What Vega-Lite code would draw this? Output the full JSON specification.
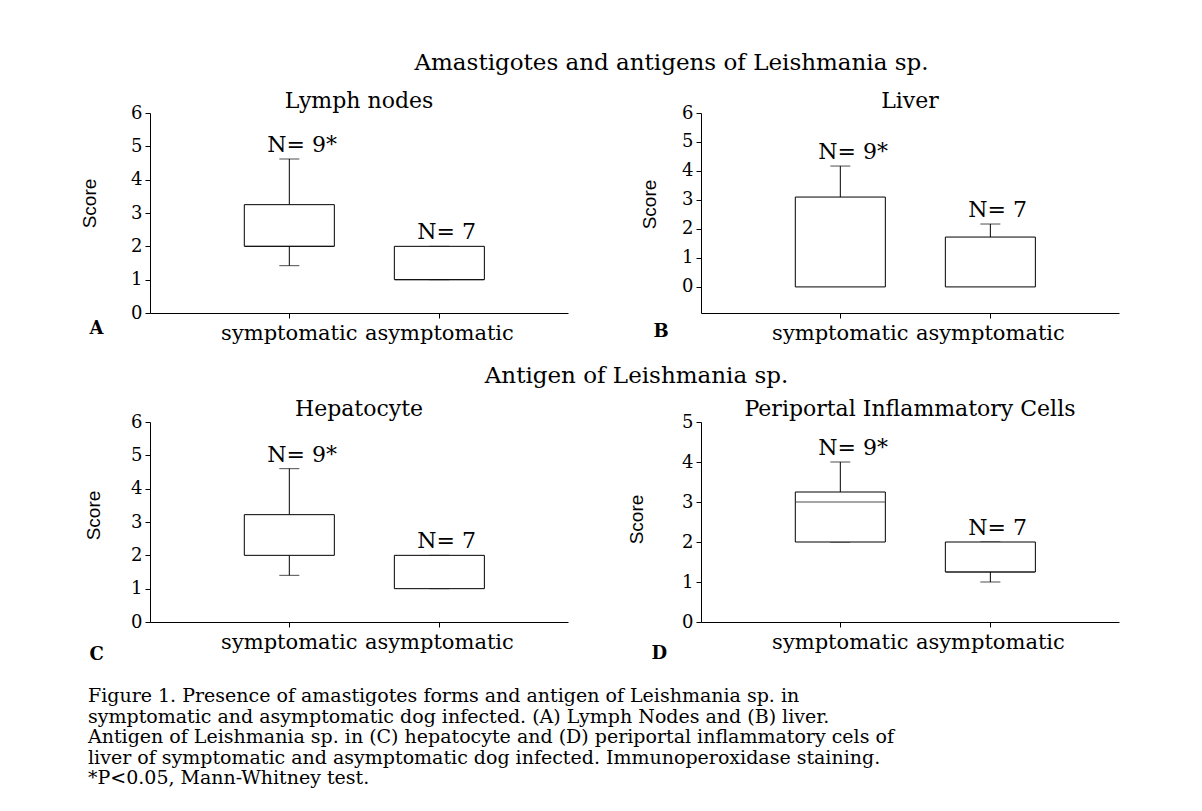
{
  "$schema": "https://vega.github.io/schema/vega-lite/v6.json",
  "background": "white",
  "padding": {"left": 80, "top": 52, "right": 5, "bottom": 5},
  "config": {
    "font": "DejaVu Serif",
    "view": {"stroke": null},
    "axis": {"domainColor": "black", "tickColor": "black", "labelColor": "black", "titleColor": "black", "grid": false, "domainWidth": 1, "tickWidth": 1, "tickSize": 5, "labelFont": "DejaVu Serif"},
    "axisX": {"labelAngle": 0, "labelFontSize": 21, "labelPadding": 4, "titleFont": "DejaVu Serif", "titleFontWeight": "bold", "titleFontSize": 18, "titleAnchor": "start", "titleAlign": "left", "titleBaseline": "alphabetic"},
    "axisY": {"labelFontSize": 18, "labelPadding": 3, "labelOverlap": false, "titleFont": "Liberation Sans", "titleFontWeight": "normal", "titleFontSize": 19, "titleBaseline": "middle", "titleAlign": "center", "titleAngle": -90},
    "title": {"font": "DejaVu Serif", "fontWeight": "normal", "fontSize": 22, "color": "black"}
  },
  "title": {
    "text": [
      "Figure 1. Presence of amastigotes forms and antigen of Leishmania sp. in",
      "symptomatic and asymptomatic dog infected. (A) Lymph Nodes and (B) liver.",
      "Antigen of Leishmania sp. in (C) hepatocyte and (D) periportal inflammatory cels of",
      "liver of symptomatic and asymptomatic dog infected.  Immunoperoxidase staining.",
      "*P<0.05, Mann-Whitney test."
    ],
    "orient": "bottom",
    "anchor": "start",
    "frame": "bounds",
    "dx": 8,
    "offset": 24,
    "fontSize": 19,
    "lineHeight": 20.5,
    "baseline": "top"
  },
  "spacing": 22,
  "align": "none",
  "vconcat": [
    {
      "title": {"text": "Amastigotes and antigens of Leishmania sp.", "anchor": "middle", "dx": 72, "offset": 15, "fontSize": 23},
      "spacing": 72,
      "hconcat": [
        {
          "title": {"text": "Lymph nodes", "offset": -9},
          "width": 418, "height": 200,
          "data": {"values": [
            {"group": "symptomatic", "lower": 1.42, "q1": 2, "median": 2, "q3": 3.25, "upper": 4.62, "n_label": "N= 9*"},
            {"group": "asymptomatic", "lower": 1, "q1": 1, "median": 1, "q3": 2, "upper": 2, "n_label": "N= 7"}
          ]},
          "encoding": {
            "x": {"field": "group", "type": "nominal", "sort": ["symptomatic", "asymptomatic"],
                  "scale": {"paddingInner": 0.4, "paddingOuter": 0.593, "align": 0.53},
                  "axis": {"title": "A", "titleX": -61, "titleY": 20}}
          },
          "layer": [
            {"mark": {"type": "rule", "color": "black", "strokeWidth": 1},
             "encoding": {"y": {"field": "lower", "type": "quantitative", "title": "Score", "scale": {"domain": [0, 6], "nice": false}, "axis": {"values": [0, 1, 2, 3, 4, 5, 6], "titleX": -61, "titleY": 90}}, "y2": {"field": "q1"}}},
            {"mark": {"type": "rule", "color": "black", "strokeWidth": 1},
             "encoding": {"y": {"field": "q3", "type": "quantitative", "title": "Score", "scale": {"domain": [0, 6], "nice": false}, "axis": {"values": [0, 1, 2, 3, 4, 5, 6], "titleX": -61, "titleY": 90}}, "y2": {"field": "upper"}}},
            {"mark": {"type": "tick", "size": 20, "thickness": 1, "color": "black", "orient": "horizontal"},
             "encoding": {"y": {"field": "lower", "type": "quantitative", "title": "Score", "scale": {"domain": [0, 6], "nice": false}, "axis": {"values": [0, 1, 2, 3, 4, 5, 6], "titleX": -61, "titleY": 90}}}},
            {"mark": {"type": "tick", "size": 20, "thickness": 1, "color": "black", "orient": "horizontal"},
             "encoding": {"y": {"field": "upper", "type": "quantitative", "title": "Score", "scale": {"domain": [0, 6], "nice": false}, "axis": {"values": [0, 1, 2, 3, 4, 5, 6], "titleX": -61, "titleY": 90}}}},
            {"mark": {"type": "bar", "fill": "white", "stroke": "black", "strokeWidth": 1},
             "encoding": {"y": {"field": "q1", "type": "quantitative", "title": "Score", "scale": {"domain": [0, 6], "nice": false}, "axis": {"values": [0, 1, 2, 3, 4, 5, 6], "titleX": -61, "titleY": 90}}, "y2": {"field": "q3"}}},
            {"mark": {"type": "tick", "size": 89, "thickness": 1, "color": "black", "orient": "horizontal"},
             "encoding": {"y": {"field": "median", "type": "quantitative", "title": "Score", "scale": {"domain": [0, 6], "nice": false}, "axis": {"values": [0, 1, 2, 3, 4, 5, 6], "titleX": -61, "titleY": 90}}}},
            {"mark": {"type": "text", "align": "left", "baseline": "alphabetic", "dx": -22, "dy": -7, "fontSize": 22, "font": "DejaVu Serif", "color": "black"},
             "encoding": {"y": {"field": "upper", "type": "quantitative", "title": "Score", "scale": {"domain": [0, 6], "nice": false}, "axis": {"values": [0, 1, 2, 3, 4, 5, 6], "titleX": -61, "titleY": 90}}, "text": {"field": "n_label"}}}
          ]
        },
        {
          "title": {"text": "Liver", "offset": -9},
          "width": 418, "height": 200,
          "data": {"values": [
            {"group": "symptomatic", "lower": 0, "q1": 0, "median": 0, "q3": 3.1, "upper": 4.17, "n_label": "N= 9*"},
            {"group": "asymptomatic", "lower": 0, "q1": 0, "median": 0, "q3": 1.72, "upper": 2.17, "n_label": "N= 7"}
          ]},
          "encoding": {
            "x": {"field": "group", "type": "nominal", "sort": ["symptomatic", "asymptomatic"],
                  "scale": {"paddingInner": 0.4, "paddingOuter": 0.593, "align": 0.53},
                  "axis": {"title": "B", "titleX": -48, "titleY": 23}}
          },
          "layer": [
            {"mark": {"type": "rule", "color": "black", "strokeWidth": 1},
             "encoding": {"y": {"field": "q3", "type": "quantitative", "title": "Score", "scale": {"domain": [-0.9, 6], "nice": false}, "axis": {"values": [0, 1, 2, 3, 4, 5, 6], "titleX": -52, "titleY": 91}}, "y2": {"field": "upper"}}},
            {"mark": {"type": "tick", "size": 20, "thickness": 1, "color": "black", "orient": "horizontal"},
             "encoding": {"y": {"field": "upper", "type": "quantitative", "title": "Score", "scale": {"domain": [-0.9, 6], "nice": false}, "axis": {"values": [0, 1, 2, 3, 4, 5, 6], "titleX": -52, "titleY": 91}}}},
            {"mark": {"type": "bar", "fill": "white", "stroke": "black", "strokeWidth": 1},
             "encoding": {"y": {"field": "q1", "type": "quantitative", "title": "Score", "scale": {"domain": [-0.9, 6], "nice": false}, "axis": {"values": [0, 1, 2, 3, 4, 5, 6], "titleX": -52, "titleY": 91}}, "y2": {"field": "q3"}}},
            {"mark": {"type": "text", "align": "left", "baseline": "alphabetic", "dx": -22, "dy": -7, "fontSize": 22, "font": "DejaVu Serif", "color": "black"},
             "encoding": {"y": {"field": "upper", "type": "quantitative", "title": "Score", "scale": {"domain": [-0.9, 6], "nice": false}, "axis": {"values": [0, 1, 2, 3, 4, 5, 6], "titleX": -52, "titleY": 91}}, "text": {"field": "n_label"}}}
          ]
        }
      ]
    },
    {
      "title": {"text": "Antigen of Leishmania sp.", "anchor": "middle", "dx": 35, "offset": 10, "fontSize": 23},
      "spacing": 59,
      "hconcat": [
        {
          "title": {"text": "Hepatocyte", "offset": -8},
          "width": 418, "height": 200,
          "data": {"values": [
            {"group": "symptomatic", "lower": 1.4, "q1": 2, "median": 2, "q3": 3.22, "upper": 4.6, "n_label": "N= 9*"},
            {"group": "asymptomatic", "lower": 1, "q1": 1, "median": 1, "q3": 2, "upper": 2, "n_label": "N= 7"}
          ]},
          "encoding": {
            "x": {"field": "group", "type": "nominal", "sort": ["symptomatic", "asymptomatic"],
                  "scale": {"paddingInner": 0.4, "paddingOuter": 0.593, "align": 0.53},
                  "axis": {"title": "C", "titleX": -61, "titleY": 37}}
          },
          "layer": [
            {"mark": {"type": "rule", "color": "black", "strokeWidth": 1},
             "encoding": {"y": {"field": "lower", "type": "quantitative", "title": "Score", "scale": {"domain": [0, 6], "nice": false}, "axis": {"values": [0, 1, 2, 3, 4, 5, 6], "titleX": -57, "titleY": 93}}, "y2": {"field": "q1"}}},
            {"mark": {"type": "rule", "color": "black", "strokeWidth": 1},
             "encoding": {"y": {"field": "q3", "type": "quantitative", "title": "Score", "scale": {"domain": [0, 6], "nice": false}, "axis": {"values": [0, 1, 2, 3, 4, 5, 6], "titleX": -57, "titleY": 93}}, "y2": {"field": "upper"}}},
            {"mark": {"type": "tick", "size": 20, "thickness": 1, "color": "black", "orient": "horizontal"},
             "encoding": {"y": {"field": "lower", "type": "quantitative", "title": "Score", "scale": {"domain": [0, 6], "nice": false}, "axis": {"values": [0, 1, 2, 3, 4, 5, 6], "titleX": -57, "titleY": 93}}}},
            {"mark": {"type": "tick", "size": 20, "thickness": 1, "color": "black", "orient": "horizontal"},
             "encoding": {"y": {"field": "upper", "type": "quantitative", "title": "Score", "scale": {"domain": [0, 6], "nice": false}, "axis": {"values": [0, 1, 2, 3, 4, 5, 6], "titleX": -57, "titleY": 93}}}},
            {"mark": {"type": "bar", "fill": "white", "stroke": "black", "strokeWidth": 1},
             "encoding": {"y": {"field": "q1", "type": "quantitative", "title": "Score", "scale": {"domain": [0, 6], "nice": false}, "axis": {"values": [0, 1, 2, 3, 4, 5, 6], "titleX": -57, "titleY": 93}}, "y2": {"field": "q3"}}},
            {"mark": {"type": "text", "align": "left", "baseline": "alphabetic", "dx": -22, "dy": -7, "fontSize": 22, "font": "DejaVu Serif", "color": "black"},
             "encoding": {"y": {"field": "upper", "type": "quantitative", "title": "Score", "scale": {"domain": [0, 6], "nice": false}, "axis": {"values": [0, 1, 2, 3, 4, 5, 6], "titleX": -57, "titleY": 93}}, "text": {"field": "n_label"}}}
          ]
        },
        {
          "title": {"text": "Periportal Inflammatory Cells", "offset": -8},
          "width": 418, "height": 200,
          "data": {"values": [
            {"group": "symptomatic", "lower": 2, "q1": 2, "median": 3, "q3": 3.25, "upper": 4, "n_label": "N= 9*"},
            {"group": "asymptomatic", "lower": 1, "q1": 1.25, "median": 1.25, "q3": 2, "upper": 2, "n_label": "N= 7"}
          ]},
          "encoding": {
            "x": {"field": "group", "type": "nominal", "sort": ["symptomatic", "asymptomatic"],
                  "scale": {"paddingInner": 0.4, "paddingOuter": 0.593, "align": 0.53},
                  "axis": {"title": "D", "titleX": -50, "titleY": 36}}
          },
          "layer": [
            {"mark": {"type": "rule", "color": "black", "strokeWidth": 1},
             "encoding": {"y": {"field": "lower", "type": "quantitative", "title": "Score", "scale": {"domain": [0, 5], "nice": false}, "axis": {"values": [0, 1, 2, 3, 4, 5], "titleX": -65, "titleY": 97}}, "y2": {"field": "q1"}}},
            {"mark": {"type": "rule", "color": "black", "strokeWidth": 1},
             "encoding": {"y": {"field": "q3", "type": "quantitative", "title": "Score", "scale": {"domain": [0, 5], "nice": false}, "axis": {"values": [0, 1, 2, 3, 4, 5], "titleX": -65, "titleY": 97}}, "y2": {"field": "upper"}}},
            {"mark": {"type": "tick", "size": 20, "thickness": 1, "color": "black", "orient": "horizontal"},
             "encoding": {"y": {"field": "lower", "type": "quantitative", "title": "Score", "scale": {"domain": [0, 5], "nice": false}, "axis": {"values": [0, 1, 2, 3, 4, 5], "titleX": -65, "titleY": 97}}}},
            {"mark": {"type": "tick", "size": 20, "thickness": 1, "color": "black", "orient": "horizontal"},
             "encoding": {"y": {"field": "upper", "type": "quantitative", "title": "Score", "scale": {"domain": [0, 5], "nice": false}, "axis": {"values": [0, 1, 2, 3, 4, 5], "titleX": -65, "titleY": 97}}}},
            {"mark": {"type": "bar", "fill": "white", "stroke": "black", "strokeWidth": 1},
             "encoding": {"y": {"field": "q1", "type": "quantitative", "title": "Score", "scale": {"domain": [0, 5], "nice": false}, "axis": {"values": [0, 1, 2, 3, 4, 5], "titleX": -65, "titleY": 97}}, "y2": {"field": "q3"}}},
            {"mark": {"type": "tick", "size": 89, "thickness": 1, "color": "black", "orient": "horizontal"},
             "encoding": {"y": {"field": "median", "type": "quantitative", "title": "Score", "scale": {"domain": [0, 5], "nice": false}, "axis": {"values": [0, 1, 2, 3, 4, 5], "titleX": -65, "titleY": 97}}}},
            {"mark": {"type": "text", "align": "left", "baseline": "alphabetic", "dx": -22, "dy": -7, "fontSize": 22, "font": "DejaVu Serif", "color": "black"},
             "encoding": {"y": {"field": "upper", "type": "quantitative", "title": "Score", "scale": {"domain": [0, 5], "nice": false}, "axis": {"values": [0, 1, 2, 3, 4, 5], "titleX": -65, "titleY": 97}}, "text": {"field": "n_label"}}}
          ]
        }
      ]
    }
  ]
}
